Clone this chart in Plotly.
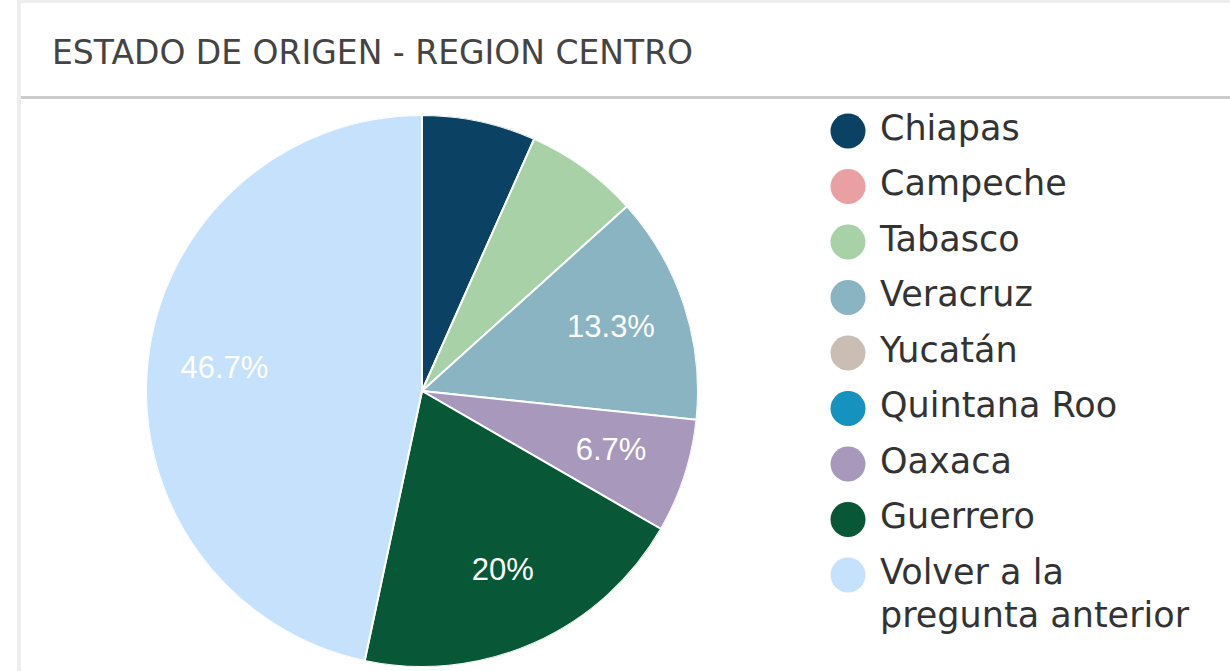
import plotly.graph_objects as go

W, H = 1230, 671

title_text = "ESTADO DE ORIGEN - REGION CENTRO"
categories = ["Chiapas", "Campeche", "Tabasco", "Veracruz", "Yucatán",
              "Quintana Roo", "Oaxaca", "Guerrero", "Volver a la\npregunta anterior"]
counts = [1, 0, 1, 2, 0, 0, 1, 3, 7]
colors = ["#0b4263", "#e8a0a3", "#a8d1a8", "#8ab4c1", "#c9bdb4",
          "#1592bd", "#a898bc", "#085737", "#c6e1fb"]
show_label = [False, False, False, True, False, False, True, True, True]

total = sum(counts)


def pct(v):
    s = f"{v / total * 100:.1f}"
    if s.endswith(".0"):
        s = s[:-2]
    return s + "%"


# slice geometry in degrees, derived from the counts
widths = [v / total * 360 for v in counts]
mids = []
acc = 0.0
for w in widths:
    mids.append(acc + w / 2)
    acc += w

names = [c.replace("\n", " ") for c in categories]


def px_x(p):
    return p / W


def px_y(p):
    return 1 - p / H


fig = go.Figure()

# pie slices (polar wedges, clockwise from 12 o'clock)
cx, cy, R = 422, 391, 276
fig.add_trace(go.Barpolar(
    r=[1] * len(counts), theta=mids, width=widths,
    marker=dict(color=colors, line=dict(color="white", width=2)),
    customdata=[pct(v) for v in counts], text=names,
    hovertemplate="%{text}: %{customdata}<extra></extra>",
    showlegend=False,
))

# slice labels
lab_theta = [m for m, s in zip(mids, show_label) if s]
lab_text = [pct(v) for v, s in zip(counts, show_label) if s]
fig.add_trace(go.Scatterpolar(
    r=[0.72] * len(lab_theta), theta=lab_theta, text=lab_text,
    mode="text", textposition="middle center",
    textfont=dict(family="Liberation Sans, Arial, sans-serif", size=31, color="white"),
    showlegend=False, hoverinfo="skip",
))

# legend drawn as scatter on hidden axes (index-based rows)
item_px0, item_step, line_step = 131, 55.5, 43
rows_y, rows_txt = [], []
for i, c in enumerate(categories):
    for k, line in enumerate(c.split("\n")):
        rows_y.append(i + k * line_step / item_step)
        rows_txt.append(line)

marker_x = 848
text_x = 880
fig.add_trace(go.Scatter(
    x=[marker_x] * len(categories), y=list(range(len(categories))),
    mode="markers",
    marker=dict(size=35, color=colors, line=dict(width=0)),
    showlegend=False, hoverinfo="skip",
))
fig.add_trace(go.Scatter(
    x=[text_x] * len(rows_txt), y=rows_y,
    mode="text", text=rows_txt, textposition="middle right",
    textfont=dict(family="DejaVu Sans, Verdana, sans-serif", size=35, color="#333333"),
    showlegend=False, hoverinfo="skip",
))

y_top = (0 - item_px0) / item_step
y_bot = (H - item_px0) / item_step

fig.update_layout(
    width=W, height=H,
    margin=dict(l=0, r=0, t=0, b=0),
    paper_bgcolor="white", plot_bgcolor="rgba(0,0,0,0)",
    xaxis=dict(range=[0, W], domain=[0, 1], visible=False, fixedrange=True),
    yaxis=dict(range=[y_bot, y_top], domain=[0, 1], visible=False, fixedrange=True),
    polar=dict(
        domain=dict(x=[px_x(cx - R), px_x(cx + R)], y=[px_y(cy + R), px_y(cy - R)]),
        bgcolor="rgba(0,0,0,0)",
        hole=0,
        angularaxis=dict(rotation=90, direction="clockwise", visible=False),
        radialaxis=dict(range=[0, 1], visible=False),
        bargap=0,
    ),
    title=dict(text=title_text, x=px_x(52), xanchor="left", y=px_y(52), yanchor="middle",
               font=dict(family="DejaVu Sans, sans-serif", size=33, color="#444444")),
    shapes=[
        dict(type="rect", xref="paper", yref="paper", x0=px_x(17), x1=px_x(21), y0=0, y1=1,
             fillcolor="#eeeeee", line=dict(width=0), layer="below"),
        dict(type="rect", xref="paper", yref="paper", x0=px_x(17), x1=1, y0=px_y(3), y1=1,
             fillcolor="#eeeeee", line=dict(width=0), layer="below"),
        dict(type="rect", xref="paper", yref="paper", x0=px_x(21), x1=1, y0=px_y(99), y1=px_y(96),
             fillcolor="#cccccc", line=dict(width=0), layer="below"),
    ],
)

fig.write_html("out.html", config=dict(displayModeBar=False),
               post_script="document.body.style.margin='0px';")
